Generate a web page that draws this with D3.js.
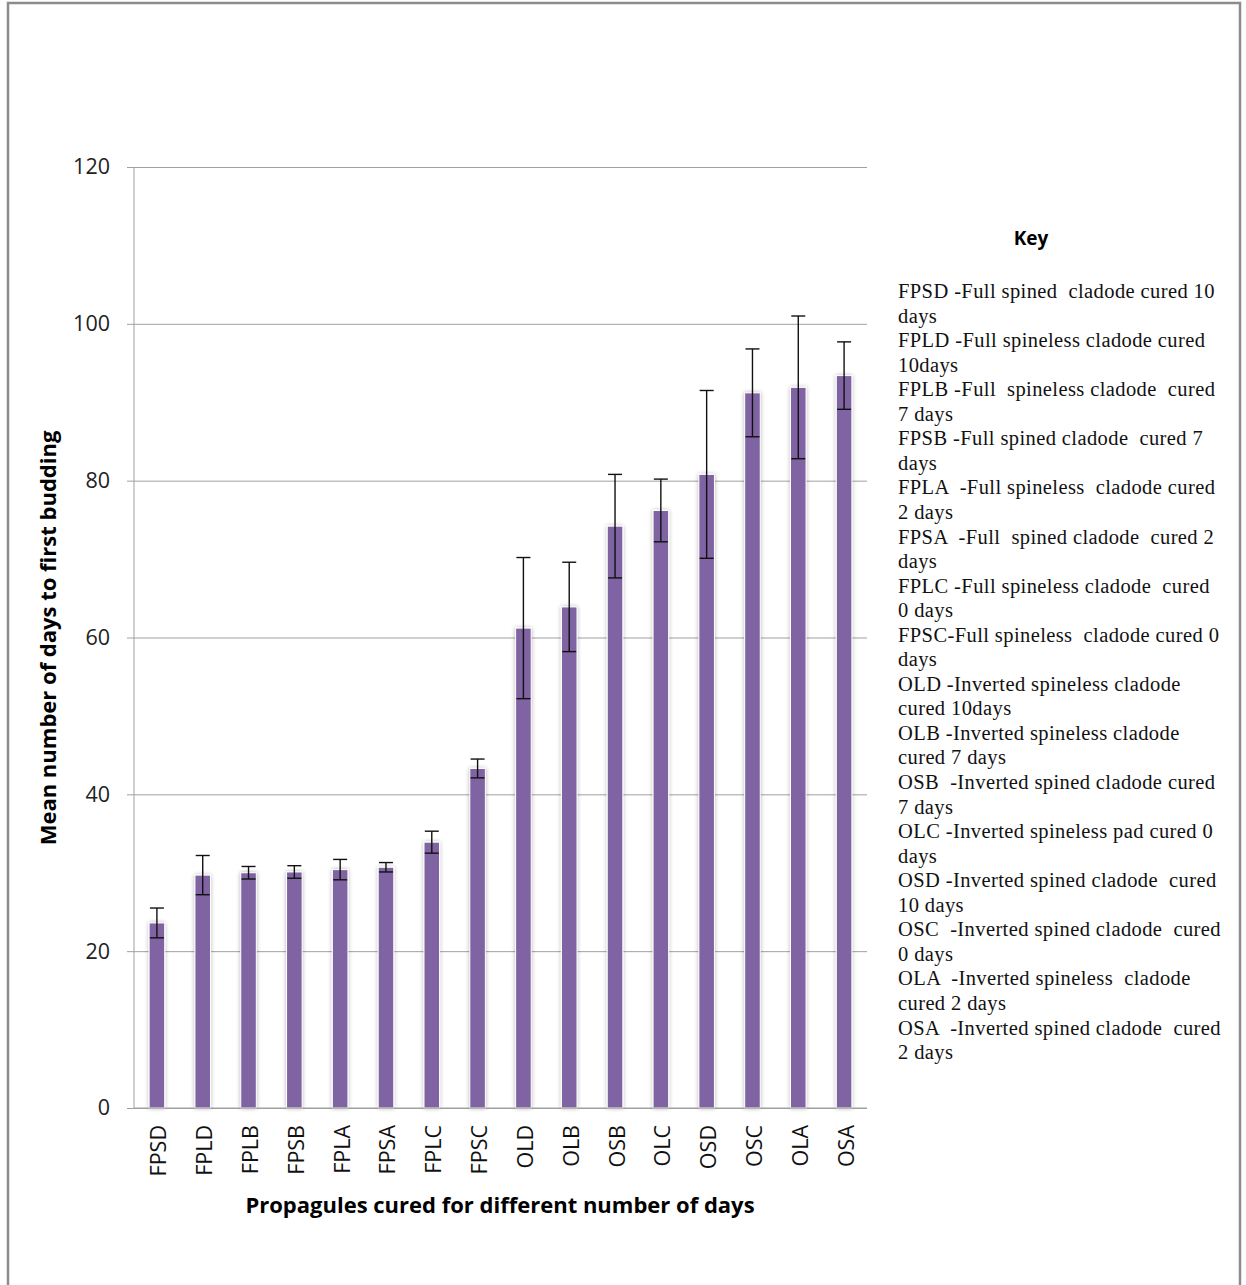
<!DOCTYPE html>
<html>
<head>
<meta charset="utf-8">
<script src="https://cdn.jsdelivr.net/npm/d3@7"></script>
<style>
  body { margin: 0; background: #fff; }
  svg text { white-space: pre; }
</style>
</head>
<body>
<svg id="chart" width="1246" height="1285"></svg>
<script>
// data
let categories = ["FPSD", "FPLD", "FPLB", "FPSB", "FPLA", "FPSA", "FPLC", "FPSC",
    "OLD", "OLB", "OSB", "OLC", "OSD", "OSC", "OLA", "OSA"];
let means = [23.6, 29.7, 30.0, 30.1, 30.4, 30.7, 33.9, 43.3,
    61.2, 63.9, 74.2, 76.2, 80.8, 91.2, 91.9, 93.4];
let errors = [1.9, 2.5, 0.8, 0.8, 1.3, 0.6, 1.4, 1.2,
    9.0, 5.7, 6.6, 4.0, 10.7, 5.6, 9.1, 4.3];
let yTicks = [0, 20, 40, 60, 80, 100, 120];
let keyLines = [
    "FPSD -Full spined  cladode cured 10", "days",
    "FPLD -Full spineless cladode cured", "10days",
    "FPLB -Full  spineless cladode  cured", "7 days",
    "FPSB -Full spined cladode  cured 7", "days",
    "FPLA  -Full spineless  cladode cured", "2 days",
    "FPSA  -Full  spined cladode  cured 2", "days",
    "FPLC -Full spineless cladode  cured", "0 days",
    "FPSC-Full spineless  cladode cured 0", "days",
    "OLD -Inverted spineless cladode", "cured 10days",
    "OLB -Inverted spineless cladode", "cured 7 days",
    "OSB  -Inverted spined cladode cured", "7 days",
    "OLC -Inverted spineless pad cured 0", "days",
    "OSD -Inverted spined cladode  cured", "10 days",
    "OSC  -Inverted spined cladode  cured", "0 days",
    "OLA  -Inverted spineless  cladode", "cured 2 days",
    "OSA  -Inverted spined cladode  cured", "2 days"
];

let svg = d3.select("#chart");
let plotLeft = 134, plotRight = 867, plotTop = 167, plotBottom = 1108;
let sans = "'Open Sans', sans-serif";

// outer frame
svg.append("rect")
    .attr("x", 8).attr("y", 3)
    .attr("width", 1232).attr("height", 1300)
    .attr("fill", "none")
    .attr("stroke", "#8c8c8c")
    .attr("stroke-width", 2.5);

let x = d3.scaleBand().domain(categories).range([plotLeft, plotRight]).paddingInner(0.66).paddingOuter(0.33);
let y = d3.scaleLinear().domain([0, 120]).range([plotBottom, plotTop]);

let defs = svg.append("defs");
let f = defs.append("filter").attr("id", "shadow")
    .attr("x", "-50%").attr("y", "-5%").attr("width", "200%").attr("height", "110%");
f.append("feGaussianBlur").attr("in", "SourceAlpha").attr("stdDeviation", 2).attr("result", "b");
f.append("feComponentTransfer").attr("in", "b").attr("result", "s")
    .append("feFuncA").attr("type", "linear").attr("slope", 0.3);
let fm = f.append("feMerge");
fm.append("feMergeNode").attr("in", "s");
fm.append("feMergeNode").attr("in", "SourceGraphic");

// gridlines + y axis
let yAxis = d3.axisLeft(y).tickValues(yTicks).tickSize(plotRight - plotLeft + 7).tickPadding(17);
let gy = svg.append("g").attr("transform", `translate(${plotRight},0)`).call(yAxis);
gy.select(".domain").remove();
gy.selectAll(".tick line").attr("stroke", "#a0a0a0").attr("stroke-width", 1);
gy.selectAll(".tick text")
    .attr("font-family", sans).attr("font-size", 21.5).attr("fill", "#222");

svg.append("line")
    .attr("x1", plotLeft).attr("x2", plotLeft).attr("y1", plotTop).attr("y2", plotBottom)
    .attr("stroke", "#a0a0a0");

// bars
svg.append("g").selectAll("rect")
    .data(categories)
    .join("rect")
    .attr("x", d => x(d))
    .attr("width", x.bandwidth())
    .attr("y", (d, i) => y(means[i]))
    .attr("height", (d, i) => plotBottom - y(means[i]))
    .attr("fill", "#8064a2")
    .attr("stroke", "#fff")
    .attr("stroke-width", 1)
    .attr("filter", "url(#shadow)");

// x axis line
svg.append("line")
    .attr("x1", plotLeft).attr("x2", plotRight).attr("y1", plotBottom).attr("y2", plotBottom)
    .attr("stroke", "#a0a0a0");

// error bars
let eb = svg.append("g").attr("stroke", "#111").attr("stroke-width", 1.4);
categories.forEach(function (c, i) {
    let cx = x(c) + x.bandwidth() / 2;
    let hi = y(means[i] + errors[i]), lo = y(means[i] - errors[i]);
    eb.append("line").attr("x1", cx).attr("x2", cx).attr("y1", hi).attr("y2", lo);
    eb.append("line").attr("x1", cx - 7).attr("x2", cx + 7).attr("y1", hi).attr("y2", hi);
    eb.append("line").attr("x1", cx - 7).attr("x2", cx + 7).attr("y1", lo).attr("y2", lo);
});

// category labels
svg.append("g").selectAll("text")
    .data(categories)
    .join("text")
    .attr("transform", d => `translate(${x(d) + x.bandwidth() / 2 + 1},1125) rotate(-90)`)
    .attr("text-anchor", "end")
    .attr("dominant-baseline", "central")
    .attr("font-family", sans).attr("font-size", 21.5).attr("fill", "#111")
    .text(d => d);

// axis titles
svg.append("text")
    .attr("x", 500).attr("y", 1213)
    .attr("text-anchor", "middle")
    .attr("font-family", sans).attr("font-size", 22).attr("font-weight", "bold")
    .text("Propagules cured for different number of days");

svg.append("text")
    .attr("transform", "translate(56,638) rotate(-90)")
    .attr("text-anchor", "middle")
    .attr("font-family", sans).attr("font-size", 22).attr("font-weight", "bold")
    .text("Mean number of days to first budding");

// key
svg.append("text")
    .attr("x", 1031).attr("y", 245)
    .attr("text-anchor", "middle")
    .attr("font-family", sans).attr("font-size", 19).attr("font-weight", "bold")
    .text("Key");

svg.append("g").selectAll("text")
    .data(keyLines)
    .join("text")
    .attr("x", 898)
    .attr("y", (d, i) => 298 + i * 24.55)
    .attr("font-family", "'Liberation Serif', serif")
    .attr("font-size", 20.5).attr("letter-spacing", 0.4).attr("fill", "#111")
    .text(d => d);
</script>
</body>
</html>
